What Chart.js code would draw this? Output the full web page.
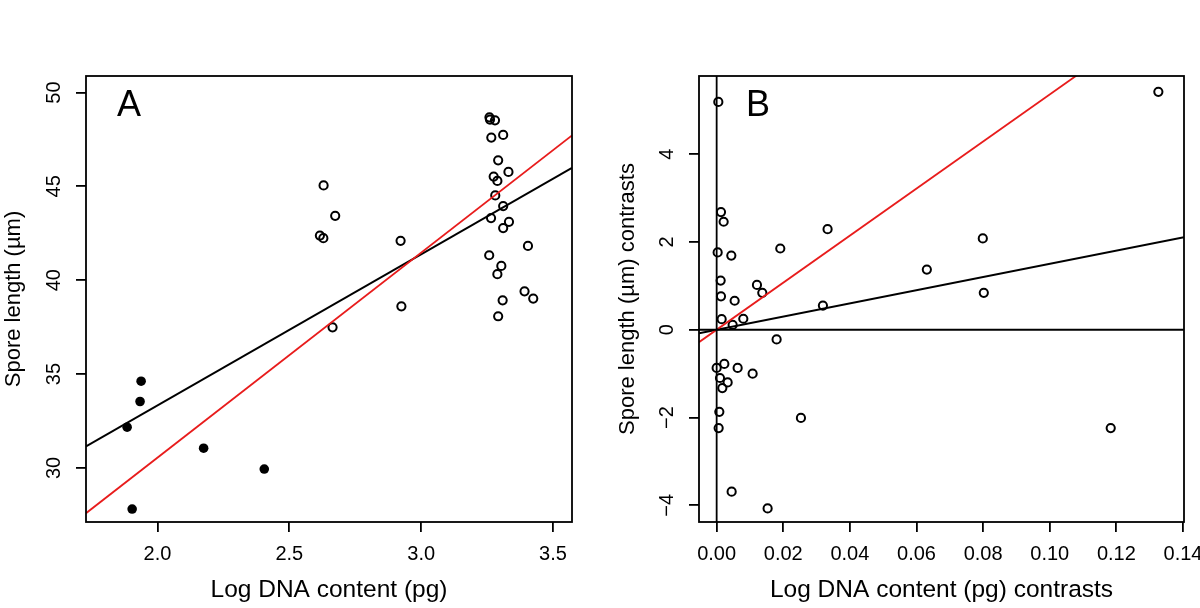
<!DOCTYPE html>
<html>
<head>
<meta charset="utf-8">
<script src="https://cdn.jsdelivr.net/npm/chart.js@4.4.1/dist/chart.umd.min.js"></script>
<style>
  body { margin: 0; background: #fff; width: 1200px; height: 608px; overflow: hidden; position: relative; }
  .panel { position: absolute; top: 0; width: 600px; height: 608px; }
</style>
</head>
<body>
<div class="panel" style="left:0"><canvas id="chartA" width="600" height="608"></canvas></div>
<div class="panel" style="left:600px"><canvas id="chartB" width="600" height="608"></canvas></div>
<script>
// Panel A: species values (open = one group, filled = the other)
const openDna = [2.630, 2.674, 2.616, 2.629, 2.922, 2.925, 2.664,
  3.259, 3.261, 3.280, 3.311, 3.266, 3.292, 3.331, 3.275, 3.289, 3.281,
  3.311, 3.265, 3.333, 3.311, 3.405, 3.258, 3.304, 3.289, 3.392, 3.425, 3.309, 3.292];
const openSpore = [45.05, 43.43, 42.38, 42.24, 42.10, 38.61, 37.49,
  48.68, 48.56, 48.52, 47.74, 47.60, 46.39, 45.77, 45.52, 45.29, 44.52,
  43.95, 43.31, 43.11, 42.78, 41.83, 41.33, 40.76, 40.32, 39.41, 39.02, 38.93, 38.08];
const filledDna = [1.938, 1.934, 1.885, 2.175, 2.405, 1.904];
const filledSpore = [34.62, 33.54, 32.17, 31.05, 29.94, 27.81];

// Panel B: independent contrasts
const dnaContrast = [0.0005, 0.0013, 0.0021, 0.0003, 0.0044, 0.0191, 0.0333, 0.0012, 0.0121, 0.0137,
  0.0013, 0.0054, 0.0319, 0.0015, 0.0080, 0.0048, 0.0180, 0.0023, 0.0000, 0.0063,
  0.0108, 0.0010, 0.0033, 0.0017, 0.0008, 0.0253, 0.0006, 0.0045, 0.0153, 0.1326,
  0.0799, 0.0631, 0.0802, 0.1183];
const sporeContrast = [5.19, 2.68, 2.46, 1.76, 1.69, 1.85, 2.29, 1.12, 1.02, 0.84,
  0.76, 0.66, 0.55, 0.24, 0.25, 0.11, -0.22, -0.78, -0.87, -0.87,
  -1.00, -1.10, -1.20, -1.33, -1.87, -2.01, -2.24, -3.69, -4.07, 5.42,
  2.08, 1.37, 0.84, -2.24];

// fitted lines [intercept, slope]
const fitA_black = [17.23, 8.05];
const fitA_red = [8.71, 10.92];
const fitB_black = [0, 15.0];
const fitB_red = [0, 53.6];

// axis limits and ticks
const limA_x = [1.729, 3.572], limA_y = [27.12, 50.88];
const limB_x = [-0.0053, 0.1403], limB_y = [-4.38, 5.78];
const stepA_x = 0.5, stepA_y = 5, stepB_x = 0.02, stepB_y = 2;

const FONT = '"Liberation Sans", Arial, Helvetica, sans-serif';
const RED = '#e81c1c';

function pts(xs, ys) {
  return xs.map((x, i) => ({x: x, y: ys[i]}));
}
function fitLine(fit, lim) {
  return lim.map(x => ({x: x, y: fit[0] + fit[1] * x}));
}

const boxPlugin = {
  id: 'box',
  afterDraw(chart, args, opts) {
    const a = chart.chartArea;
    const ctx = chart.ctx;
    ctx.save();
    ctx.strokeStyle = '#000';
    ctx.lineWidth = 1.8;
    ctx.strokeRect(a.left, a.top, a.right - a.left, a.bottom - a.top);
    ctx.fillStyle = '#000';
    ctx.font = '36px ' + FONT;
    ctx.textBaseline = 'alphabetic';
    ctx.fillText(opts.letter, opts.lx, 116);
    ctx.restore();
  }
};

function makeScales(limX, limY, stepX, stepY, fmtX, fmtY, yWidth, xTitle, yTitle, yTitlePad) {
  const grid = {drawOnChartArea: false, drawTicks: true, tickLength: 10, color: '#000', lineWidth: 1.8};
  return {
    x: {
      type: 'linear', min: limX[0], max: limX[1],
      border: {display: false},
      grid: grid,
      ticks: {stepSize: stepX, includeBounds: false, color: '#000', padding: 10,
        font: {family: FONT, size: 20}, callback: fmtX, maxRotation: 0},
      title: {display: true, text: xTitle, color: '#000', font: {family: FONT, size: 24.5},
        padding: {top: 0, bottom: 3}},
      afterFit(s) { s.height = 86; s.paddingLeft = 0; s.paddingRight = 0; }
    },
    y: {
      type: 'linear', min: limY[0], max: limY[1],
      border: {display: false},
      grid: grid,
      ticks: {stepSize: stepY, includeBounds: false, color: '#000', padding: 10,
        minRotation: 90, maxRotation: 90, crossAlign: 'center',
        font: {family: FONT, size: 20}, callback: fmtY},
      title: {display: true, text: yTitle, color: '#000', font: {family: FONT, size: 22},
        padding: {top: yTitlePad, bottom: 0}},
      afterFit(s) { s.width = yWidth; s.paddingTop = 0; s.paddingBottom = 0; }
    }
  };
}

const common = {
  responsive: false,
  animation: false,
  events: [],
  plugins: {legend: {display: false}, tooltip: {enabled: false}}
};

new Chart(document.getElementById('chartA'), {
  type: 'scatter',
  data: {
    datasets: [
      {type: 'line', data: fitLine(fitA_red, limA_x), showLine: true, borderColor: RED, borderWidth: 1.8, pointRadius: 0, fill: false},
      {type: 'line', data: fitLine(fitA_black, limA_x), showLine: true, borderColor: '#000', borderWidth: 2, pointRadius: 0, fill: false},
      {data: pts(openDna, openSpore), pointRadius: 4.1, borderWidth: 2, borderColor: '#000', backgroundColor: 'rgba(0,0,0,0)'},
      {data: pts(filledDna, filledSpore), pointRadius: 4.8, borderWidth: 0, backgroundColor: '#000'}
    ]
  },
  options: Object.assign({}, common, {
    layout: {padding: {left: 0, top: 76, right: 28, bottom: 0}},
    scales: makeScales(limA_x, limA_y, stepA_x, stepA_y,
      v => v.toFixed(1), v => String(v), 86,
      'Log DNA content (pg)', 'Spore length (\u00b5m)', 1),
    plugins: Object.assign({}, common.plugins, {box: {letter: 'A', lx: 117}})
  }),
  plugins: [boxPlugin]
});

new Chart(document.getElementById('chartB'), {
  type: 'scatter',
  data: {
    datasets: [
      {type: 'line', data: [{x: 0, y: limB_y[0]}, {x: 0, y: limB_y[1]}], showLine: true, borderColor: '#000', borderWidth: 1.8, pointRadius: 0, fill: false},
      {type: 'line', data: [{x: limB_x[0], y: 0}, {x: limB_x[1], y: 0}], showLine: true, borderColor: '#000', borderWidth: 1.8, pointRadius: 0, fill: false},
      {type: 'line', data: fitLine(fitB_red, limB_x), showLine: true, borderColor: RED, borderWidth: 1.8, pointRadius: 0, fill: false},
      {type: 'line', data: fitLine(fitB_black, limB_x), showLine: true, borderColor: '#000', borderWidth: 2, pointRadius: 0, fill: false},
      {data: pts(dnaContrast, sporeContrast), pointRadius: 4.1, borderWidth: 2, borderColor: '#000', backgroundColor: 'rgba(0,0,0,0)'}
    ]
  },
  options: Object.assign({}, common, {
    layout: {padding: {left: 0, top: 76, right: 16, bottom: 0}},
    scales: makeScales(limB_x, limB_y, stepB_x, stepB_y,
      v => v.toFixed(2), v => (v < 0 ? '\u2212' + Math.abs(v) : String(v)), 99,
      'Log DNA content (pg) contrasts', 'Spore length (\u00b5m) contrasts', 15),
    plugins: Object.assign({}, common.plugins, {box: {letter: 'B', lx: 146}})
  }),
  plugins: [boxPlugin]
});
</script>
</body>
</html>
